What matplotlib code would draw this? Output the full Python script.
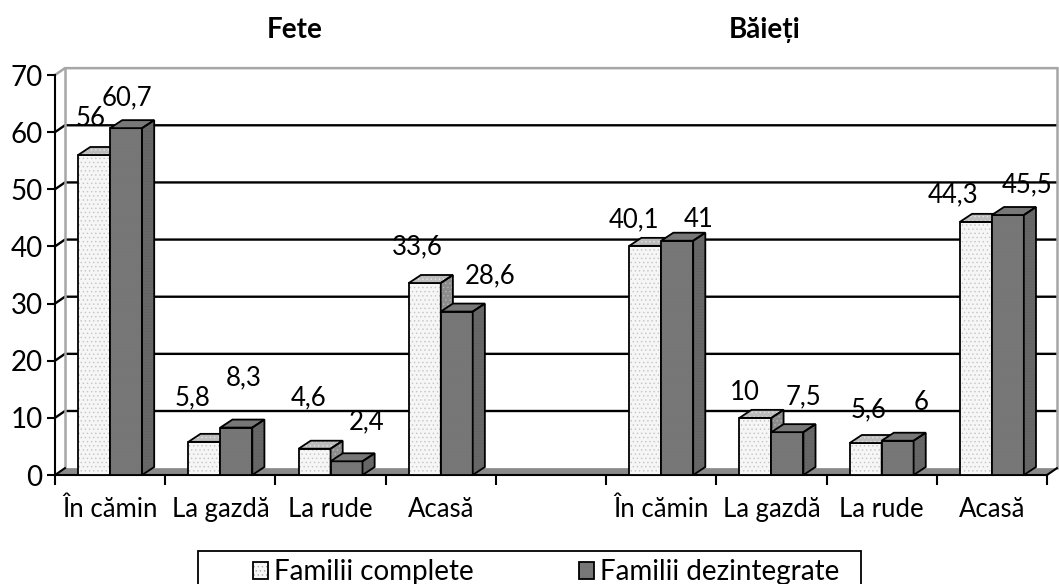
import matplotlib
matplotlib.use("Agg")
import matplotlib.pyplot as plt
from matplotlib.patches import Polygon, Rectangle, Patch
from matplotlib.legend_handler import HandlerTuple

plt.rcParams['font.family'] = ['Lato', 'DejaVu Sans']
plt.rcParams['hatch.linewidth'] = 0.5

# ---------------- data ----------------
categories = ["În cămin", "La gazdă", "La rude", "Acasă"]
groups = ["Fete", "Băieți"]
series_names = ["Familii complete", "Familii dezintegrate"]
fete_complete = [56, 5.8, 4.6, 33.6]
fete_dezint = [60.7, 8.3, 2.4, 28.6]
baieti_complete = [40.1, 10, 5.6, 44.3]
baieti_dezint = [41, 7.5, 6, 45.5]
y_ticks = [0, 10, 20, 30, 40, 50, 60, 70]

# ---------------- layout / style ----------------
W, H = 1059, 584
FS = 20        # ticks, titles, legend
FS_CAT = 18.5  # category labels
FS_VAL = 18.5  # value labels
n_slots = 2 * len(categories) + 1           # one empty slot between groups
slots = list(range(len(categories))) + [len(categories) + 1 + i for i in range(len(categories))]
complete_vals = fete_complete + baieti_complete
dezint_vals = fete_dezint + baieti_dezint

BAR_OFF, BAR_W = 0.21, 0.29
BDX, BDY = 0.11, 1.4       # bar depth offset (data units)
WDX, WDY = 0.09, 1.2       # wall depth offset (data units)

# label nudges in pixels (dx, dy) relative to bar front-top centre
lab_off_c = [(-4, -37), (-12, -44), (-6, -51), (-7, -36), (-11, -26), (-11, -25), (3, -33), (-23, -27)]
lab_off_d = [(1, -30), (7, -50), (20, -39), (33, -36), (21, -21), (16, -35), (23, -38), (19, -30)]

style_c = dict(front=("#f6f6f6", "#c4c4c4"), top=("#bcbcbc", "#e2e2e2"), side=("#8c8c8c", "#b4b4b4"), hatch="....")
style_d = dict(front=("#858585", "#767676"), top=("#5e5e5e", "#7a7a7a"), side=("#3c3c3c", "#6a6a6a"), hatch="-" * 22)

fig = plt.figure(figsize=(W / 100, H / 100), dpi=100)
ax = fig.add_axes([55 / W, (H - 475) / H, 992 / W, 400 / H])
ax.set_xlim(0, n_slots)
ax.set_ylim(0, 70)

# ---------------- walls ----------------
grid_c = "black"
wall_c = "#a6a6a6"
for v in y_ticks[1:-1]:
    ax.plot([0, WDX, n_slots + WDX], [v, v + WDY, v + WDY], color=grid_c, lw=1.7, clip_on=False, zorder=1)
ax.plot([0, WDX, n_slots + WDX], [70, 70 + WDY, 70 + WDY], color=wall_c, lw=1.8, clip_on=False, zorder=1)
ax.plot([WDX, WDX], [WDY, 70 + WDY], color=wall_c, lw=1.8, clip_on=False, zorder=1)
ax.plot([n_slots + WDX, n_slots + WDX], [WDY, 70 + WDY], color=wall_c, lw=1.8, clip_on=False, zorder=1)
floor = Polygon([(0, 0), (n_slots, 0), (n_slots + WDX, WDY), (WDX, WDY)], closed=True,
                facecolor="#8a8a8a", edgecolor="none", clip_on=False, zorder=1.2)
ax.add_patch(floor)
ax.plot([n_slots, n_slots + WDX], [0, WDY], color="black", lw=1.5, clip_on=False, zorder=1.3)
ax.plot([0, WDX], [0, WDY], color="black", lw=1.5, clip_on=False, zorder=1.3)


def face(pts, colors, hatch, z):
    bg, hc = colors
    ax.add_patch(Polygon(pts, closed=True, facecolor=bg, edgecolor=hc, lw=0, hatch=hatch,
                         clip_on=False, zorder=z))
    ax.add_patch(Polygon(pts, closed=True, fill=False, edgecolor="black", lw=1.3,
                         joinstyle="miter", clip_on=False, zorder=z + 0.01))


def bar3d(x0, v, st, z):
    x1 = x0 + BAR_W
    face([(x0, 0), (x1, 0), (x1, v), (x0, v)], st["front"], st["hatch"], z)
    face([(x0, v), (x1, v), (x1 + BDX, v + BDY), (x0 + BDX, v + BDY)], st["top"], st["hatch"], z + 0.02)
    face([(x1, 0), (x1 + BDX, BDY), (x1 + BDX, v + BDY), (x1, v)], st["side"], st["hatch"], z + 0.02)


def fmt(v):
    return f"{v:g}".replace(".", ",")


z = 2
for i, s in enumerate(slots):
    xc = s + BAR_OFF
    xd = xc + BAR_W
    bar3d(xc, complete_vals[i], style_c, z)
    bar3d(xd, dezint_vals[i], style_d, z + 0.1)
    z += 0.2
    for x0, v, off in ((xc, complete_vals[i], lab_off_c[i]), (xd, dezint_vals[i], lab_off_d[i])):
        ax.annotate(fmt(v), (x0 + BAR_W / 2, v), xytext=(off[0] * 0.72, -off[1] * 0.72),
                    textcoords="offset points", ha="center", va="center", fontsize=FS_VAL,
                    color="black", zorder=10, annotation_clip=False)

# ---------------- axes ----------------
for sp in ("top", "right"):
    ax.spines[sp].set_visible(False)
for sp in ("left", "bottom"):
    ax.spines[sp].set_linewidth(1.5)
    ax.spines[sp].set_zorder(1.4)
ax.set_yticks(y_ticks)
ax.tick_params(axis="y", direction="out", length=6, width=1.5, labelsize=FS, pad=3)
ax.set_xticks(range(n_slots + 1))
ax.set_xticklabels([])
ax.tick_params(axis="x", which="major", direction="out", length=7, width=1.5)
ax.set_xticks([s + 0.5 for s in slots], minor=True)
ax.set_xticklabels(categories + categories, minor=True)
ax.tick_params(axis="x", which="minor", length=0, labelsize=FS_CAT, pad=16)

# group titles
fig.text(295 / W, 1 - 30 / H, groups[0], ha="center", va="center", fontsize=FS, fontweight="bold")
fig.text(765 / W, 1 - 30 / H, groups[1], ha="center", va="center", fontsize=FS, fontweight="bold")

# ---------------- legend ----------------
h_c = (Patch(facecolor=style_c["front"][0], edgecolor="#a8a8a8", lw=0, hatch=style_c["hatch"]),
       Patch(fill=False, edgecolor="black", lw=1.3))
h_d = (Patch(facecolor=style_d["front"][0], edgecolor=style_d["front"][1], lw=0, hatch=style_d["hatch"]),
       Patch(fill=False, edgecolor="black", lw=1.3))
leg = fig.legend([h_c, h_d], series_names, loc="center", bbox_to_anchor=(546 / W, 1 - 572 / H),
                 ncol=2, frameon=False, fontsize=FS, handlelength=0.55, handleheight=0.55,
                 handletextpad=0.2, columnspacing=3.8, borderpad=0,
                 handler_map={tuple: HandlerTuple(ndivide=1, pad=0)})
fig.add_artist(Rectangle((198 / W, -0.05), (861 - 198) / W, (H - 551) / H + 0.05,
                         transform=fig.transFigure, fill=False, edgecolor="black", lw=1.3))

fig.savefig("out.png", dpi=100)
